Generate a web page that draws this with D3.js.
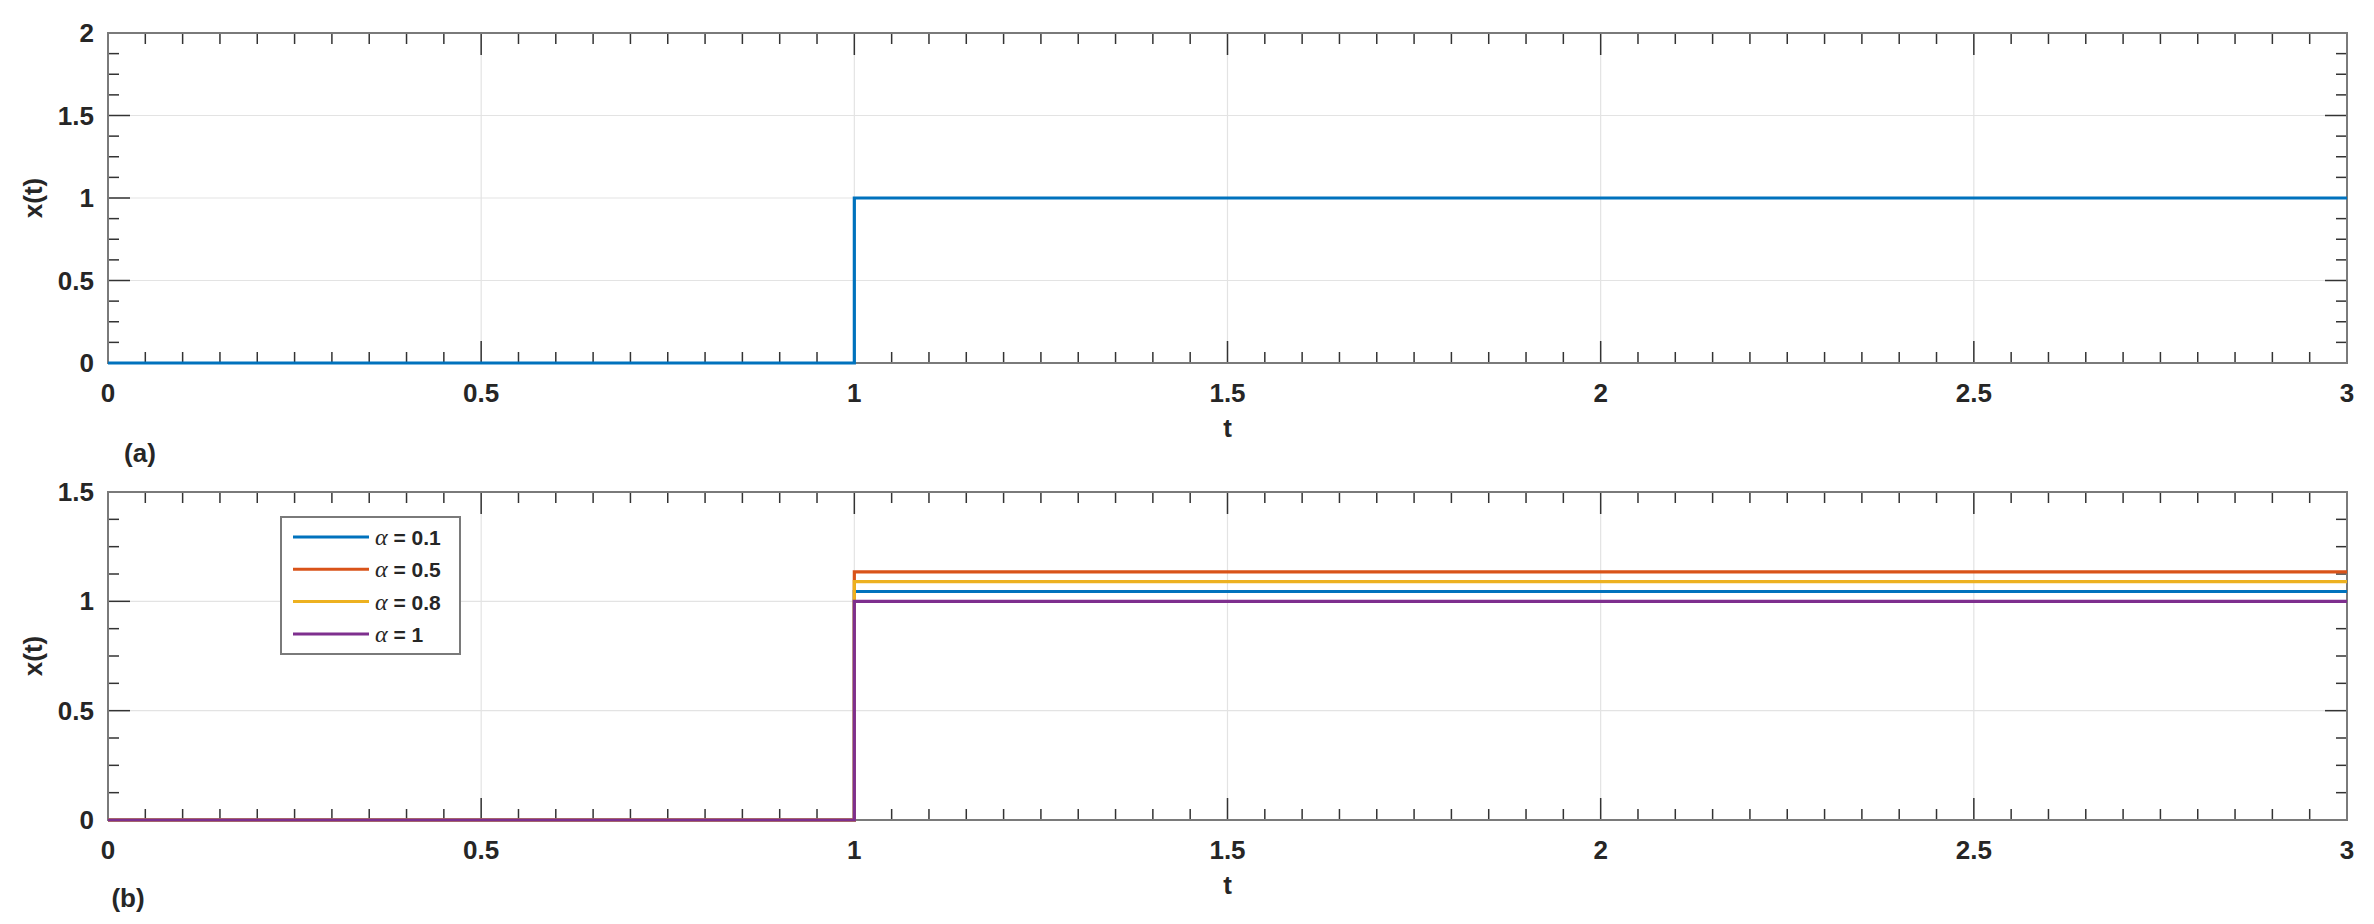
<!DOCTYPE html>
<html><head><meta charset="utf-8">
<script src="https://cdn.jsdelivr.net/npm/d3@7"></script>
<style>body{margin:0;background:#fff}svg{display:block}text{font-family:"Liberation Sans",Arial,sans-serif}</style>
</head><body><svg id="c" width="2374" height="924"></svg>
<script>
// Data
const tValues = [0, 1, 1, 3];
const xTopValues = [0, 0, 1, 1];
const alphaLabels = ["0.1", "0.5", "0.8", "1"];
const alphaLevels = [1.045, 1.135, 1.09, 1.0];
const seriesColors = ["#0072BD", "#D95319", "#EDB120", "#7E2F8E"];
const xTicks = [0, 0.5, 1, 1.5, 2, 2.5, 3];
const yTicksTop = [0, 0.5, 1, 1.5, 2];
const yTicksBottom = [0, 0.5, 1, 1.5];

const svg = d3.select("#c");
const L = 108, R = 2347;
const FS = 26;

function panel(top, bottom, yMax, yTicks, series, tag, tagY) {
  const x = d3.scaleLinear().domain([0, 3]).range([L, R]);
  const y = d3.scaleLinear().domain([0, yMax]).range([bottom, top]);
  const g = svg.append("g");
  // grid
  g.selectAll(".gx").data(xTicks.slice(1, -1)).enter().append("line")
    .attr("x1", d => x(d)).attr("x2", d => x(d)).attr("y1", top).attr("y2", bottom)
    .attr("stroke", "#e3e3e3").attr("stroke-width", 1.2);
  g.selectAll(".gy").data(yTicks.slice(1, -1)).enter().append("line")
    .attr("y1", d => y(d)).attr("y2", d => y(d)).attr("x1", L).attr("x2", R)
    .attr("stroke", "#e3e3e3").attr("stroke-width", 1.2);
  // ticks
  const xMinor = d3.range(0, 3.0001, 0.05);
  const yMinor = d3.range(0, yMax + 0.0001, 0.125);
  const tc = "#333";
  xMinor.forEach(v => {
    const maj = xTicks.some(m => Math.abs(m - v) < 1e-6);
    const len = maj ? 22 : 11;
    g.append("line").attr("x1", x(v)).attr("x2", x(v)).attr("y1", bottom).attr("y2", bottom - len).attr("stroke", tc).attr("stroke-width", 1.5);
    g.append("line").attr("x1", x(v)).attr("x2", x(v)).attr("y1", top).attr("y2", top + len).attr("stroke", tc).attr("stroke-width", 1.5);
  });
  yMinor.forEach(v => {
    const maj = yTicks.some(m => Math.abs(m - v) < 1e-6);
    const len = maj ? 22 : 11;
    g.append("line").attr("y1", y(v)).attr("y2", y(v)).attr("x1", L).attr("x2", L + len).attr("stroke", tc).attr("stroke-width", 1.5);
    g.append("line").attr("y1", y(v)).attr("y2", y(v)).attr("x1", R).attr("x2", R - len).attr("stroke", tc).attr("stroke-width", 1.5);
  });
  // box
  g.append("rect").attr("x", L).attr("y", top).attr("width", R - L).attr("height", bottom - top)
    .attr("fill", "none").attr("stroke", "#7a7a7a").attr("stroke-width", 2);
  // data
  const line = d3.line().x((d, i) => x(tValues[i])).y(d => y(d));
  series.forEach(s => {
    g.append("path").datum(s.values).attr("d", line).attr("fill", "none")
      .attr("stroke", s.color).attr("stroke-width", 3.2).attr("stroke-linejoin", "miter");
  });
  // tick labels
  g.selectAll(".xl").data(xTicks).enter().append("text")
    .attr("x", d => x(d)).attr("y", bottom + 39).attr("text-anchor", "middle")
    .attr("font-size", FS).attr("font-weight", "bold").attr("fill", "#262626")
    .text(d => d3.format("")(d));
  g.selectAll(".yl").data(yTicks).enter().append("text")
    .attr("x", L - 14).attr("y", d => y(d) + 9).attr("text-anchor", "end")
    .attr("font-size", FS).attr("font-weight", "bold").attr("fill", "#262626")
    .text(d => d3.format("")(d));
  g.append("text").attr("x", (L + R) / 2).attr("y", bottom + 74).attr("text-anchor", "middle")
    .attr("font-size", FS).attr("font-weight", "bold").attr("fill", "#262626").text("t");
  g.append("text").attr("transform", `translate(42,${(top + bottom) / 2}) rotate(-90)`)
    .attr("text-anchor", "middle").attr("font-size", FS).attr("font-weight", "bold").attr("fill", "#262626").text("x(t)");
  g.append("text").attr("x", tag.x).attr("y", tagY).attr("text-anchor", "middle")
    .attr("font-size", FS).attr("font-weight", "bold").attr("fill", "#262626").text(tag.t);
  return { x, y, g };
}

panel(33, 363, 2, yTicksTop, [{ values: xTopValues, color: seriesColors[0] }], { x: 140, t: "(a)" }, 462);
const bottomSeries = alphaLevels.map((v, i) => ({ values: [0, 0, v, v], color: seriesColors[i] }));
panel(492, 820, 1.5, yTicksBottom, bottomSeries, { x: 128, t: "(b)" }, 907);

// legend
const lg = svg.append("g");
lg.append("rect").attr("x", 281).attr("y", 517).attr("width", 179).attr("height", 137)
  .attr("fill", "#fff").attr("stroke", "#7a7a7a").attr("stroke-width", 2);
alphaLabels.forEach((lab, i) => {
  const yy = 537 + i * 32.3;
  lg.append("line").attr("x1", 293).attr("x2", 369).attr("y1", yy).attr("y2", yy)
    .attr("stroke", seriesColors[i]).attr("stroke-width", 3);
  const t = lg.append("text").attr("x", 375).attr("y", yy + 8).attr("font-size", 21).attr("fill", "#262626");
  t.append("tspan").attr("font-family", "Liberation Serif, Times New Roman, serif").attr("font-style", "italic").attr("font-size", 24).text("α");
  t.append("tspan").attr("font-weight", "bold").text(" = " + lab);
});
</script></body></html>
